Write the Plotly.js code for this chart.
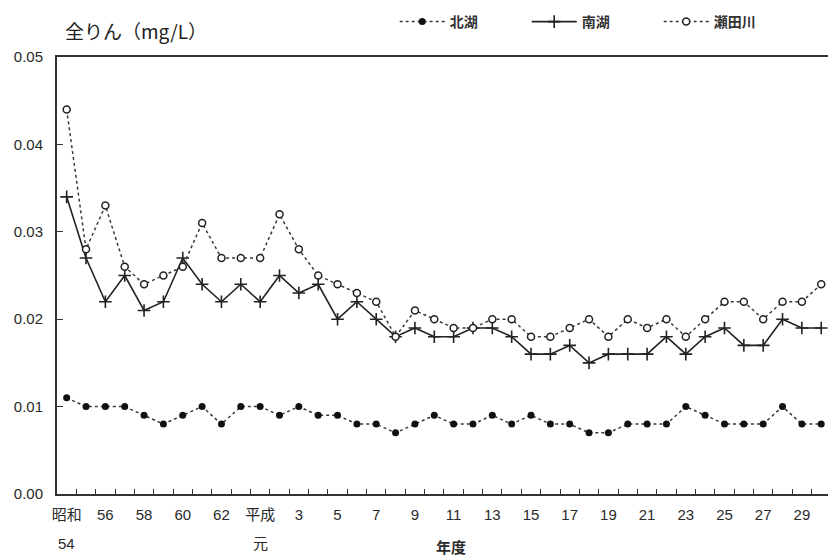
<!DOCTYPE html>
<html>
<head>
<meta charset="utf-8">
<script src="https://cdn.plot.ly/plotly-3.0.1.min.js"></script>
<style>html,body{margin:0;padding:0;background:#fff;}#chart{width:828px;height:556px;}</style>
</head>
<body>
<div id="chart"></div>
<script>
// Fiscal years 昭和54 (1979) .. 平成30 (2018)
const years = ['昭和54','55','56','57','58','59','60','61','62','63',
  '平成元','2','3','4','5','6','7','8','9','10','11','12','13','14','15','16','17','18','19','20',
  '21','22','23','24','25','26','27','28','29','30'];

const hokko = [0.011,0.010,0.010,0.010,0.009,0.008,0.009,0.010,0.008,0.010,
  0.010,0.009,0.010,0.009,0.009,0.008,0.008,0.007,0.008,0.009,
  0.008,0.008,0.009,0.008,0.009,0.008,0.008,0.007,0.007,0.008,
  0.008,0.008,0.010,0.009,0.008,0.008,0.008,0.010,0.008,0.008];

const nanko = [0.034,0.027,0.022,0.025,0.021,0.022,0.027,0.024,0.022,0.024,
  0.022,0.025,0.023,0.024,0.020,0.022,0.020,0.018,0.019,0.018,
  0.018,0.019,0.019,0.018,0.016,0.016,0.017,0.015,0.016,0.016,
  0.016,0.018,0.016,0.018,0.019,0.017,0.017,0.020,0.019,0.019];

const setagawa = [0.044,0.028,0.033,0.026,0.024,0.025,0.026,0.031,0.027,0.027,
  0.027,0.032,0.028,0.025,0.024,0.023,0.022,0.018,0.021,0.020,
  0.019,0.019,0.020,0.020,0.018,0.018,0.019,0.020,0.018,0.020,
  0.019,0.020,0.018,0.020,0.022,0.022,0.020,0.022,0.022,0.024];

const tickIdx = [0,2,4,6,8,10,12,14,16,18,20,22,24,26,28,30,32,34,36,38];
const tickTop = ['昭和','56','58','60','62','平成','3','5','7','9','11','13','15','17','19','21','23','25','27','29'];
const tickBottom = {0:'54', 10:'元'};

const seriesNames = ['北湖','南湖','瀬田川'];
const yTicks = [0,0.01,0.02,0.03,0.04,0.05];
const titleText = '全りん（mg/L）';
const xTitleText = '年度';

const xs = years.map((_, i) => i);
const boundaries = years.map((_, i) => i - 0.5).concat([years.length - 0.5]);
const XRANGE = [-0.5, 39.35];
const FONT = 'Liberation Sans, Arial, "Noto Sans CJK JP", sans-serif';
const INK = '#2a2a2a';

const traces = [
  {x: xs, y: hokko, name: seriesNames[0], type: 'scatter', mode: 'lines+markers',
   line: {color: '#3a3a3a', width: 1.5, dash: 'dot'},
   marker: {symbol: 'circle', size: 7, color: '#111'}},
  {x: xs, y: nanko, name: seriesNames[1], type: 'scatter', mode: 'lines+markers',
   line: {color: '#222', width: 1.6},
   marker: {symbol: 'cross-thin', size: 9, color: '#222', line: {color: '#222', width: 1.6}}},
  {x: xs, y: setagawa, name: seriesNames[2], type: 'scatter', mode: 'lines+markers',
   line: {color: '#3a3a3a', width: 1.5, dash: 'dot'},
   marker: {symbol: 'circle', size: 7, color: '#fff', line: {color: '#222', width: 1.5}}},
  // invisible carrier so the label axis (x2) is drawn
  {x: xs, y: hokko, xaxis: 'x2', yaxis: 'y', type: 'scatter', mode: 'markers',
   marker: {opacity: 0, size: 1}, showlegend: false, hoverinfo: 'skip'}
];

const annotations = Object.keys(tickBottom).map(k => ({
  x: Number(k), xref: 'x', y: -(543 - 494) / 437, yref: 'paper', text: tickBottom[k], showarrow: false,
  font: {family: FONT, size: 15, color: INK}, yanchor: 'middle', xanchor: 'center'
}));
annotations.push({
  x: (451 - 57) / 771, xref: 'paper', y: -(547 - 494) / 437, yref: 'paper', text: '<b>' + xTitleText + '</b>',
  showarrow: false, font: {family: FONT, size: 15, color: INK}, xanchor: 'center', yanchor: 'middle'
});
annotations.push({
  x: (136 - 57) / 771, xref: 'paper', y: 1 + (57 - 30) / 437, yref: 'paper', text: titleText,
  showarrow: false, font: {family: '"Noto Sans CJK JP", sans-serif', size: 19, color: '#222'},
  xanchor: 'center', yanchor: 'middle'
});

const layout = {
  width: 828, height: 556,
  margin: {l: 57, r: 0, t: 57, b: 62},
  paper_bgcolor: '#fff', plot_bgcolor: '#fff',
  font: {family: FONT, size: 15, color: INK},
  showlegend: true,
  legend: {orientation: 'h', x: 0.438, xanchor: 'left', y: 1 + (57 - 22) / 437, yanchor: 'middle',
           entrywidth: 72, itemwidth: 45, font: {family: '"Noto Sans CJK JP", sans-serif', size: 14, color: '#333', weight: 'bold'},
           bgcolor: 'rgba(0,0,0,0)'},
  xaxis: {range: XRANGE, showgrid: false, zeroline: false,
          showline: true, linecolor: '#333', linewidth: 2, mirror: true,
          tickmode: 'array', tickvals: boundaries, ticks: 'inside', ticklen: 5,
          tickcolor: '#333', tickwidth: 1, showticklabels: false},
  xaxis2: {range: XRANGE, overlaying: 'x', anchor: 'y', side: 'bottom', showgrid: false, zeroline: false,
           showline: false, tickmode: 'array', tickvals: tickIdx, ticktext: tickTop, ticks: '',
           ticklabelstandoff: 10, tickfont: {family: FONT, size: 15, color: INK}},
  yaxis: {range: [0, 0.05], showgrid: false, zeroline: false,
          showline: true, linecolor: '#333', linewidth: 2,
          tickmode: 'array', tickvals: yTicks, tickformat: '.2f',
          ticks: 'inside', ticklen: 6, tickcolor: '#333', ticklabelstandoff: 9,
          tickfont: {family: FONT, size: 15, color: INK}},
  annotations: annotations
};

Plotly.newPlot('chart', traces, layout, {displayModeBar: false, staticPlot: true});
</script>
</body>
</html>
